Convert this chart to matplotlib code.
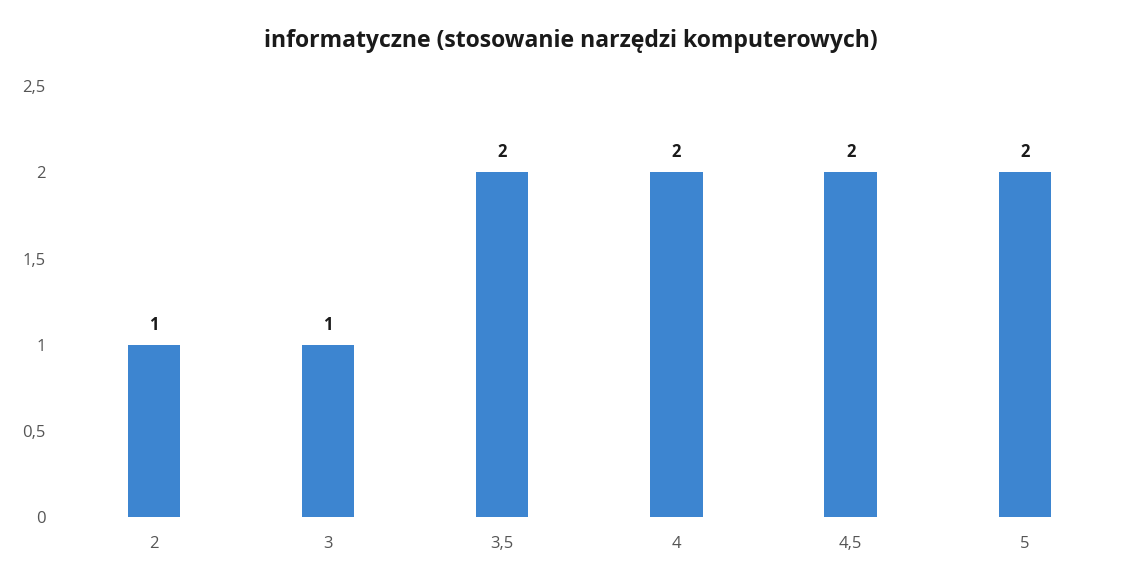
import matplotlib
matplotlib.use("Agg")
import matplotlib.pyplot as plt

categories = ["2", "3", "3,5", "4", "4,5", "5"]
values = [1, 1, 2, 2, 2, 2]
yticks = [0, 0.5, 1, 1.5, 2, 2.5]
ytick_labels = ["0", "0,5", "1", "1,5", "2", "2,5"]
title = "informatyczne (stosowanie narzędzi komputerowych)"

plt.rcParams['font.family'] = ['Open Sans', 'DejaVu Sans']

fig = plt.figure(figsize=(11.3, 5.75), dpi=100)
ax = fig.add_axes([0.059, 0.1009, 0.925, 0.749])
x = list(range(len(categories)))
bars = ax.bar(x, values, width=0.3, color="#3D85D0")
for xi, v in zip(x, values):
    ax.text(xi, v + 0.065, str(v), ha="center", va="bottom", fontsize=12,
            fontweight="bold", color="#1a1a1a")
ax.set_xlim(-0.5, len(categories) - 0.5)
ax.set_ylim(0, 2.5)
ax.set_xticks(x)
ax.set_xticklabels(categories, fontsize=12, color="#555555")
ax.set_yticks(yticks)
ax.set_yticklabels(ytick_labels, fontsize=12, color="#555555")
ax.tick_params(length=0, pad=14)
ax.tick_params(axis="y", pad=15)
for s in ax.spines.values():
    s.set_visible(False)
fig.text(0.505, 0.928, title, ha="center", va="center", fontsize=16.6,
         fontweight="bold", color="#1a1a1a")
fig.savefig("out.png", dpi=100, facecolor="white")
